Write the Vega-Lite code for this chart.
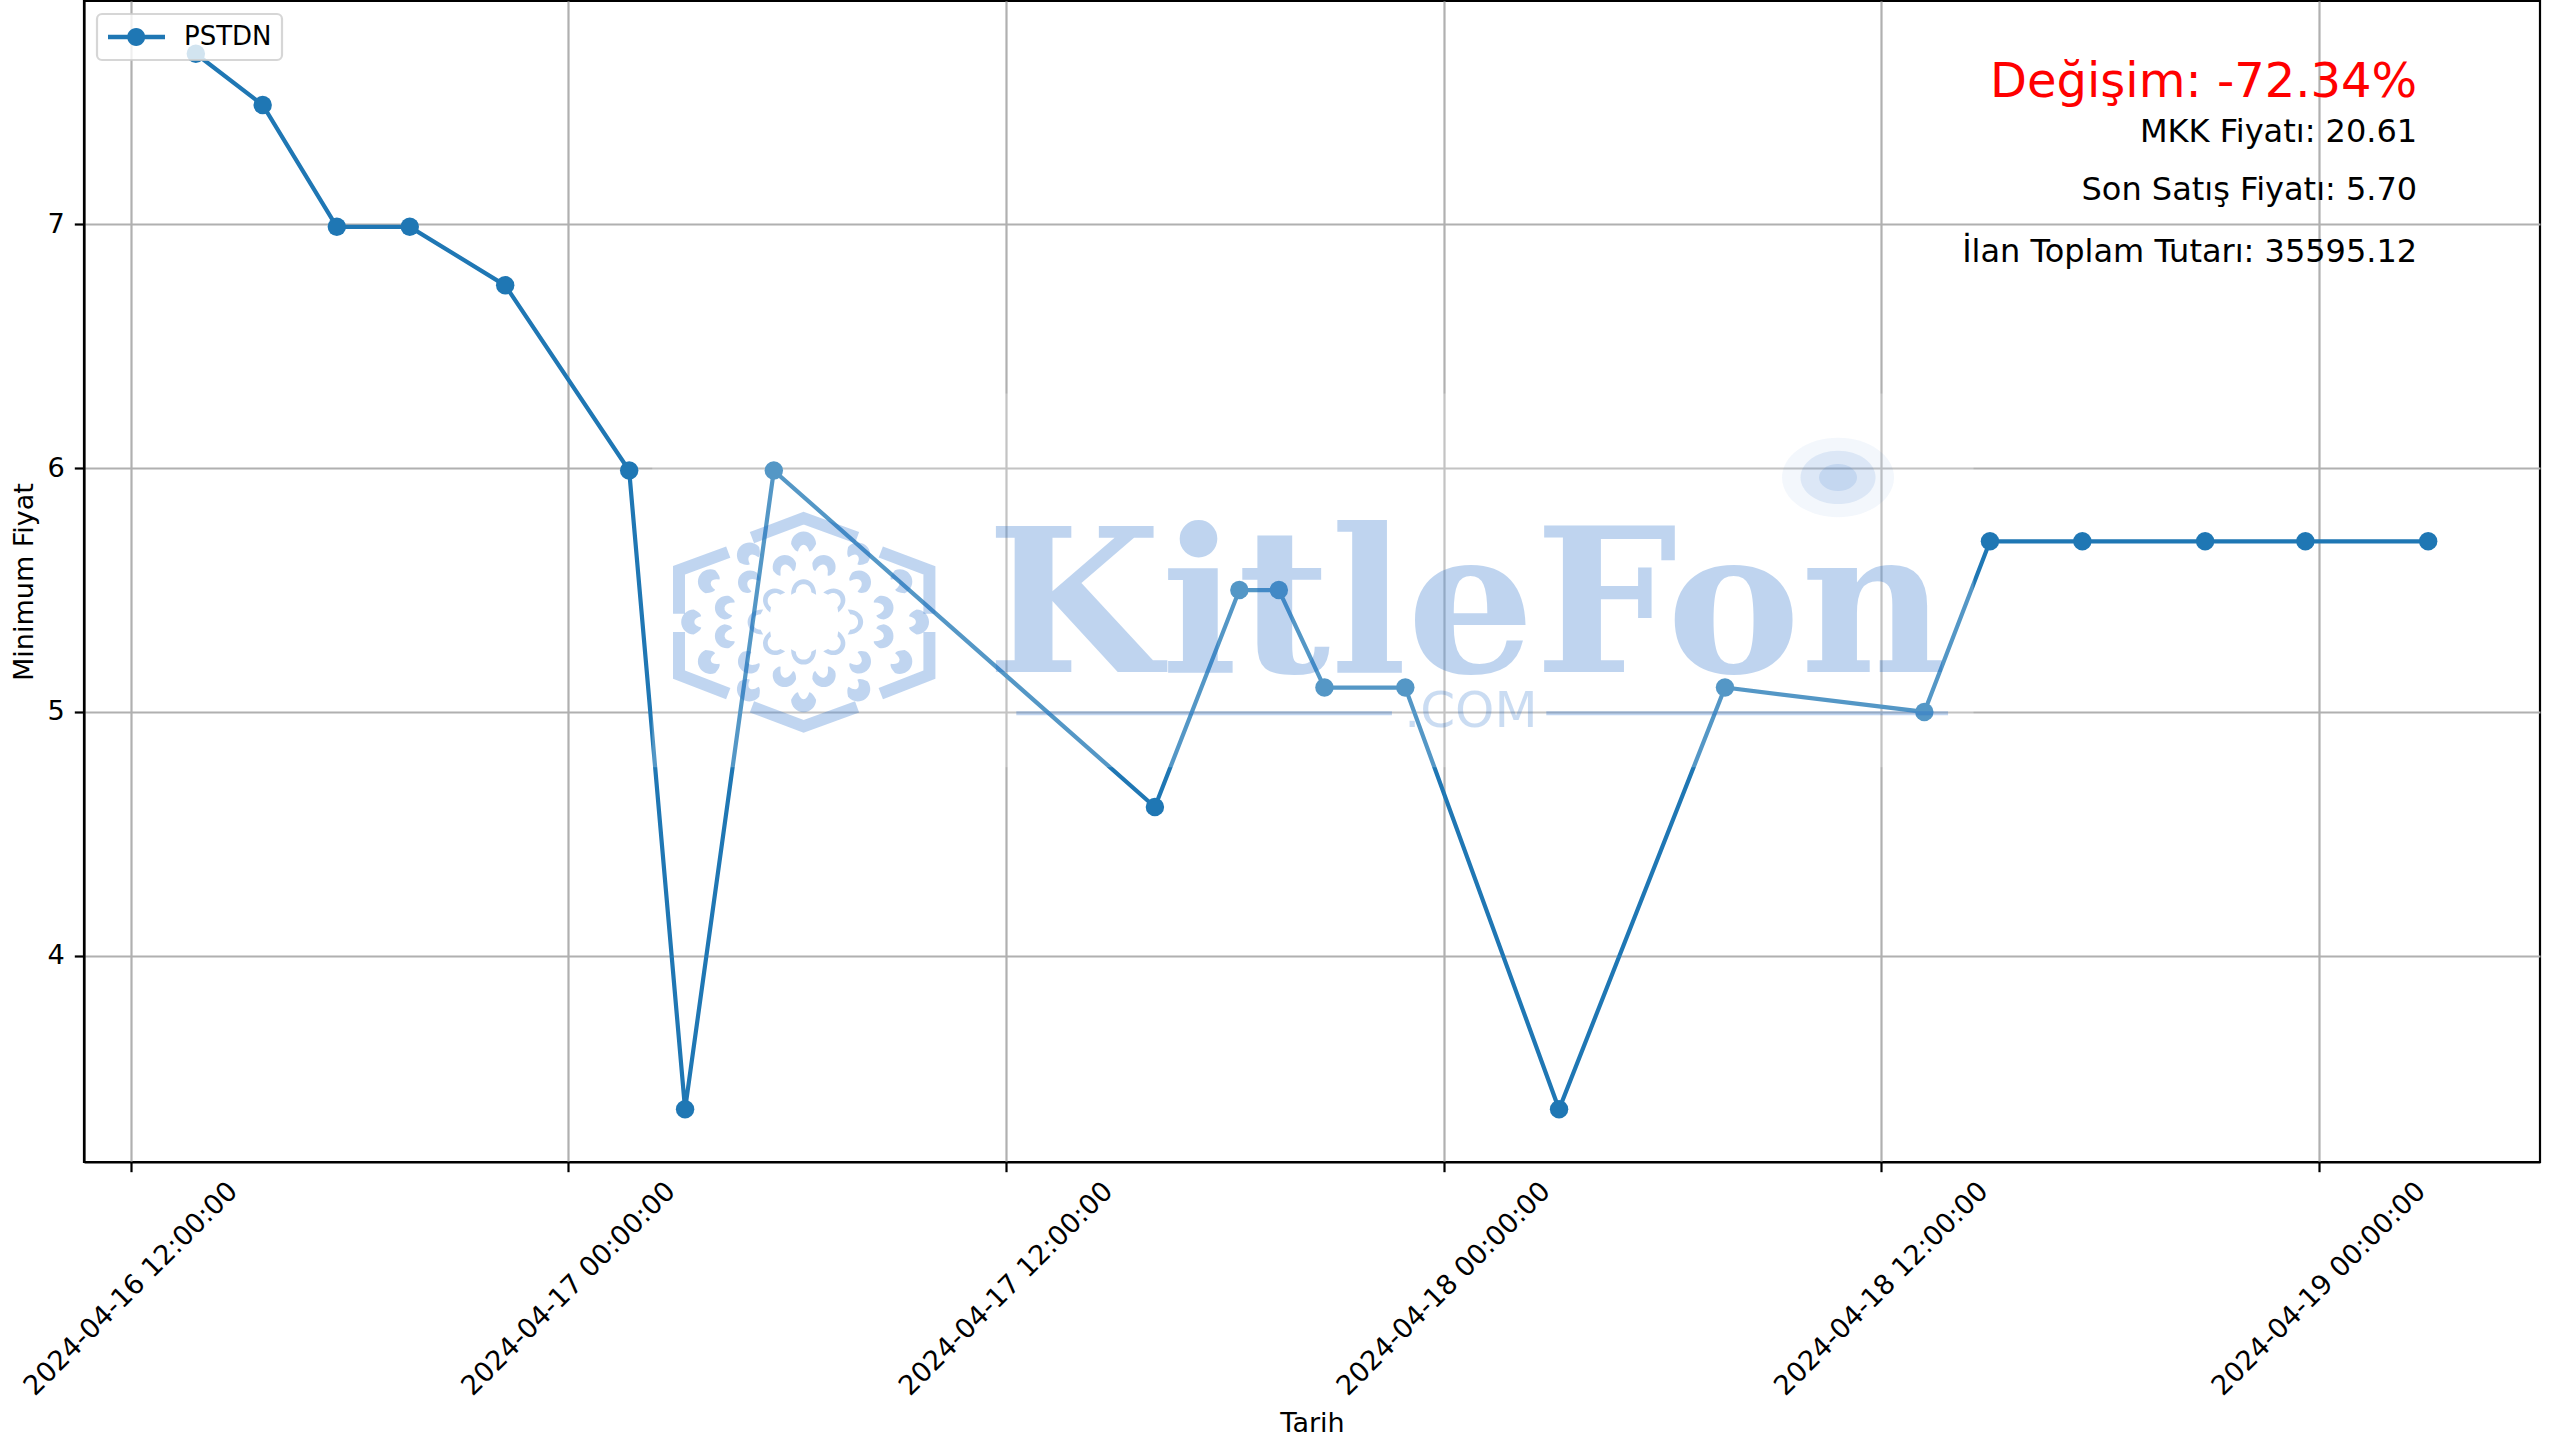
{
"$schema":"https://vega.github.io/schema/vega-lite/v6.json",
"width":2456,"height":1161,
"autosize":{"type":"none"},
"padding":{"left":84,"top":1,"right":36,"bottom":276},
"background":"white",
"config":{
 "font":"DejaVu Sans",
 "view":{"stroke":"#000000","strokeWidth":2.2},
 "legend":{"strokeWidth":2.2},
 "axis":{"grid":true,"gridColor":"#b0b0b0","gridWidth":2.2,"domainColor":"#000000","domainWidth":2.2,"tickColor":"#000000","tickWidth":2.2,"tickSize":9.7,"labelColor":"#000000","titleColor":"#000000","labelFont":"DejaVu Sans","titleFont":"DejaVu Sans","labelFontSize":27.2,"titleFontSize":27,"titleFontWeight":"normal","labelOverlap":false,"labelBound":false,"labelFlush":false,"labelLimit":1000}
},
"layer":[
 {"data":{"name":"prices","values":[
  {"t":"2024-04-16T13:47:00","v":7.70,"series":"PSTDN"},
  {"t":"2024-04-16T15:37:00","v":7.49,"series":"PSTDN"},
  {"t":"2024-04-16T17:39:00","v":6.99,"series":"PSTDN"},
  {"t":"2024-04-16T19:39:00","v":6.99,"series":"PSTDN"},
  {"t":"2024-04-16T22:16:00","v":6.75,"series":"PSTDN"},
  {"t":"2024-04-17T01:40:00","v":5.99,"series":"PSTDN"},
  {"t":"2024-04-17T03:12:00","v":3.37,"series":"PSTDN"},
  {"t":"2024-04-17T05:38:00","v":5.99,"series":"PSTDN"},
  {"t":"2024-04-17T16:05:00","v":4.61,"series":"PSTDN"},
  {"t":"2024-04-17T18:24:00","v":5.50,"series":"PSTDN"},
  {"t":"2024-04-17T19:29:00","v":5.50,"series":"PSTDN"},
  {"t":"2024-04-17T20:44:00","v":5.10,"series":"PSTDN"},
  {"t":"2024-04-17T22:57:00","v":5.10,"series":"PSTDN"},
  {"t":"2024-04-18T03:10:00","v":3.37,"series":"PSTDN"},
  {"t":"2024-04-18T07:43:00","v":5.10,"series":"PSTDN"},
  {"t":"2024-04-18T13:11:00","v":5.00,"series":"PSTDN"},
  {"t":"2024-04-18T14:59:00","v":5.70,"series":"PSTDN"},
  {"t":"2024-04-18T17:31:00","v":5.70,"series":"PSTDN"},
  {"t":"2024-04-18T20:53:00","v":5.70,"series":"PSTDN"},
  {"t":"2024-04-18T23:38:00","v":5.70,"series":"PSTDN"},
  {"t":"2024-04-19T03:00:00","v":5.70,"series":"PSTDN"}
 ]},
 "mark":{"type":"line","strokeWidth":4.2},
 "encoding":{
  "x":{"field":"t","type":"temporal","scale":{"domain":[{"year":2024,"month":4,"date":16,"hours":10,"minutes":43},{"year":2024,"month":4,"date":19,"hours":6,"minutes":4}]},
   "axis":{"title":"Tarih","format":"%Y-%m-%d %H:%M:%S","values":[{"year":2024,"month":4,"date":16,"hours":12},{"year":2024,"month":4,"date":17,"hours":0},{"year":2024,"month":4,"date":17,"hours":12},{"year":2024,"month":4,"date":18,"hours":0},{"year":2024,"month":4,"date":18,"hours":12},{"year":2024,"month":4,"date":19,"hours":0}],"labelAngle":-45,"labelAlign":"center","labelBaseline":"middle","labelPadding":117,"titlePadding":48,"titleAnchor":"middle"}},
  "y":{"field":"v","type":"quantitative","scale":{"domain":[3.1535,7.9165],"nice":false,"zero":false},
   "axis":{"title":"Minimum Fiyat","values":[4,5,6,7],"format":"d","labelPadding":10,"titlePadding":9}},
  "color":{"field":"series","type":"nominal","scale":{"range":["#1f77b4"]},
    "legend":{"title":null,"orient":"none","legendX":13,"legendY":13,"padding":10,"cornerRadius":5,"fillColor":"rgba(255,255,255,0.8)","strokeColor":"rgba(204,204,204,0.8)","symbolType":"M-1,-0.18H3.75V0.18H-1Z M2.1,0A0.75,0.75 0 1,1 0.6,0A0.75,0.75 0 1,1 2.1,0Z","symbolSize":576,"symbolFillColor":"#1f77b4","symbolStrokeColor":"#1f77b4","symbolStrokeWidth":0,"labelFontSize":26,"labelFont":"DejaVu Sans","labelColor":"#000000","labelOffset":51}}}},
 {"data":{"name":"prices"},
  "mark":{"type":"point","filled":true,"opacity":1,"size":340,"shape":"circle"},
  "encoding":{"x":{"field":"t","type":"temporal"},"y":{"field":"v","type":"quantitative"},"color":{"field":"series","type":"nominal"}}},
 {"data":{"values":[{"t":"2024-04-17T02:18:00","t2":"2024-04-18T14:32:00","v":6.306,"v2":4.773}]},
  "mark":{"type":"rect","fill":"#ffffff","opacity":0.24},
  "encoding":{"x":{"field":"t","type":"temporal"},"y":{"field":"v","type":"quantitative"},"x2":{"field":"t2"},"y2":{"field":"v2"}}},
 {"data":{"values":[
  {"seg":"top","i":0,"t":"2024-04-17T05:02:00","v":5.715},{"seg":"top","i":1,"t":"2024-04-17T06:27:00","v":5.795},{"seg":"top","i":2,"t":"2024-04-17T07:55:00","v":5.715},
  {"seg":"ru","i":0,"t":"2024-04-17T08:34:00","v":5.656},{"seg":"ru","i":1,"t":"2024-04-17T09:54:00","v":5.581},{"seg":"ru","i":2,"t":"2024-04-17T09:54:00","v":5.403},
  {"seg":"rl","i":0,"t":"2024-04-17T09:54:00","v":5.328},{"seg":"rl","i":1,"t":"2024-04-17T09:54:00","v":5.153},{"seg":"rl","i":2,"t":"2024-04-17T08:34:00","v":5.075},
  {"seg":"bot","i":0,"t":"2024-04-17T07:55:00","v":5.021},{"seg":"bot","i":1,"t":"2024-04-17T06:27:00","v":4.941},{"seg":"bot","i":2,"t":"2024-04-17T05:02:00","v":5.021},
  {"seg":"ll","i":0,"t":"2024-04-17T04:23:00","v":5.075},{"seg":"ll","i":1,"t":"2024-04-17T03:02:00","v":5.153},{"seg":"ll","i":2,"t":"2024-04-17T03:02:00","v":5.328},
  {"seg":"lu","i":0,"t":"2024-04-17T03:02:00","v":5.403},{"seg":"lu","i":1,"t":"2024-04-17T03:02:00","v":5.581},{"seg":"lu","i":2,"t":"2024-04-17T04:23:00","v":5.656}
  ]},
  "mark":{"type":"line","stroke":"#1565c8","opacity":0.27,"strokeWidth":12,"strokeJoin":"miter","strokeCap":"butt"},
  "encoding":{"x":{"field":"t","type":"temporal"},"y":{"field":"v","type":"quantitative"},"detail":{"field":"seg"},"order":{"field":"i","type":"quantitative"}}},
 {"data":{"values":[
  {"t":"2024-04-17T06:27:00","v":5.704,"a":0},{"t":"2024-04-17T04:54:00","v":5.656,"a":321},{"t":"2024-04-17T08:00:00","v":5.656,"a":39},
  {"t":"2024-04-17T03:48:00","v":5.540,"a":293},{"t":"2024-04-17T09:11:00","v":5.540,"a":67},{"t":"2024-04-17T03:20:00","v":5.369,"a":270},
  {"t":"2024-04-17T09:39:00","v":5.369,"a":90},{"t":"2024-04-17T03:48:00","v":5.201,"a":247},{"t":"2024-04-17T09:11:00","v":5.201,"a":113},
  {"t":"2024-04-17T04:54:00","v":5.082,"a":219},{"t":"2024-04-17T08:00:00","v":5.082,"a":141},{"t":"2024-04-17T06:27:00","v":5.034,"a":180}
  ]},
  "mark":{"type":"point","filled":true,"fill":"#1565c8","opacity":0.27,"size":625,"shape":"M-1,0.3A1,1 0 1,1 1,0.3Q0.7,0.9 0.45,0.9Q0.3,0.35 0,0.35Q-0.3,0.35 -0.45,0.9Q-0.7,0.9 -1,0.3Z"},
  "encoding":{"x":{"field":"t","type":"temporal"},"y":{"field":"v","type":"quantitative"},"angle":{"field":"a","type":"quantitative","scale":null}}},
 {"data":{"values":[
  {"t":"2024-04-17T05:54:00","v":5.608,"a":341},{"t":"2024-04-17T07:02:00","v":5.608,"a":20},{"t":"2024-04-17T04:54:00","v":5.540,"a":306},
  {"t":"2024-04-17T08:03:00","v":5.540,"a":54},{"t":"2024-04-17T04:15:00","v":5.430,"a":281},{"t":"2024-04-17T08:41:00","v":5.430,"a":79},
  {"t":"2024-04-17T04:15:00","v":5.308,"a":259},{"t":"2024-04-17T08:41:00","v":5.308,"a":101},{"t":"2024-04-17T04:54:00","v":5.198,"a":234},
  {"t":"2024-04-17T08:03:00","v":5.198,"a":126},{"t":"2024-04-17T05:54:00","v":5.137,"a":199},{"t":"2024-04-17T07:02:00","v":5.137,"a":161}
  ]},
  "mark":{"type":"point","filled":true,"fill":"#1565c8","opacity":0.27,"size":576,"shape":"M-1,0.3A1,1 0 1,1 1,0.3Q0.8,0.85 0.55,0.85Q0.4,0.1 0,0.1Q-0.4,0.1 -0.55,0.85Q-0.8,0.85 -1,0.3Z"},
  "encoding":{"x":{"field":"t","type":"temporal"},"y":{"field":"v","type":"quantitative"},"angle":{"field":"a","type":"quantitative","scale":null}}},
 {"data":{"values":[
  {"t":"2024-04-17T06:27:00","v":5.519,"a":0},{"t":"2024-04-17T05:32:00","v":5.472,"a":307},{"t":"2024-04-17T07:24:00","v":5.472,"a":53},
  {"t":"2024-04-17T05:05:00","v":5.369,"a":270},{"t":"2024-04-17T07:55:00","v":5.369,"a":90},{"t":"2024-04-17T05:32:00","v":5.267,"a":233},
  {"t":"2024-04-17T07:24:00","v":5.267,"a":127},{"t":"2024-04-17T06:27:00","v":5.219,"a":180}
  ]},
  "mark":{"type":"point","filled":true,"fill":"#1565c8","opacity":0.27,"size":625,"shape":"M-1,0.75C-1,-0.9 1,-0.9 1,0.75L0.62,0.55C0.6,-0.3 -0.6,-0.3 -0.62,0.55Z"},
  "encoding":{"x":{"field":"t","type":"temporal"},"y":{"field":"v","type":"quantitative"},"angle":{"field":"a","type":"quantitative","scale":null}}},
 {"data":{"values":[{"t":"2024-04-17T11:28:00","v":5.163,"label":"KitleFon"}]},
  "mark":{"type":"text","font":"DejaVu Serif","fontWeight":"bold","fontSize":201,"align":"left","baseline":"alphabetic","fill":"#1565c8","opacity":0.27},
  "encoding":{"x":{"field":"t","type":"temporal"},"y":{"field":"v","type":"quantitative"},"text":{"field":"label"}}},
 {"data":{"values":[{"t":"2024-04-18T00:45:00","v":4.937,"label":".COM"}]},
  "mark":{"type":"text","font":"DejaVu Sans","fontSize":50,"align":"center","baseline":"alphabetic","fill":"#1565c8","opacity":0.22},
  "encoding":{"x":{"field":"t","type":"temporal"},"y":{"field":"v","type":"quantitative"},"text":{"field":"label"}}},
 {"data":{"values":[{"t":"2024-04-17T12:17:00","t2":"2024-04-17T22:35:00","v":4.995},{"t":"2024-04-18T02:49:00","t2":"2024-04-18T13:50:00","v":4.995}]},
  "mark":{"type":"rule","stroke":"#1565c8","opacity":0.27,"strokeWidth":4},
  "encoding":{"x":{"field":"t","type":"temporal"},"y":{"field":"v","type":"quantitative"},"x2":{"field":"t2"}}},
 {"data":{"name":"glow","values":[{"t":"2024-04-18T10:49:00","v":5.962}]},
  "mark":{"type":"point","filled":true,"fill":"#1565c8","opacity":0.05,"size":12544,"shape":"M-1,0A1,0.71 0 1,1 1,0A1,0.71 0 1,1 -1,0Z"},
  "encoding":{"x":{"field":"t","type":"temporal"},"y":{"field":"v","type":"quantitative"}}},
 {"data":{"name":"glow"},
  "mark":{"type":"point","filled":true,"fill":"#1565c8","opacity":0.1,"size":5625,"shape":"M-1,0A1,0.71 0 1,1 1,0A1,0.71 0 1,1 -1,0Z"},
  "encoding":{"x":{"field":"t","type":"temporal"},"y":{"field":"v","type":"quantitative"}}},
 {"data":{"name":"glow"},
  "mark":{"type":"point","filled":true,"fill":"#1565c8","opacity":0.12,"size":1444,"shape":"M-1,0A1,0.71 0 1,1 1,0A1,0.71 0 1,1 -1,0Z"},
  "encoding":{"x":{"field":"t","type":"temporal"},"y":{"field":"v","type":"quantitative"}}},
 {"data":{"values":[{"t":"2024-04-19T02:42:00","v":7.523,"label":"Değişim: -72.34%"}]},
  "mark":{"type":"text","font":"DejaVu Sans","fontSize":48,"align":"right","baseline":"alphabetic","fill":"#ff0000"},
  "encoding":{"x":{"field":"t","type":"temporal"},"y":{"field":"v","type":"quantitative"},"text":{"field":"label"}}},
 {"data":{"values":[
   {"t":"2024-04-19T02:42:00","v":7.34,"label":"MKK Fiyatı: 20.61"},
   {"t":"2024-04-19T02:42:00","v":7.101,"label":"Son Satış Fiyatı: 5.70"},
   {"t":"2024-04-19T02:42:00","v":6.844,"label":"İlan Toplam Tutarı: 35595.12"}]},
  "mark":{"type":"text","font":"DejaVu Sans","fontSize":32,"align":"right","baseline":"alphabetic","fill":"#000000"},
  "encoding":{"x":{"field":"t","type":"temporal"},"y":{"field":"v","type":"quantitative"},"text":{"field":"label"}}}
]
}
